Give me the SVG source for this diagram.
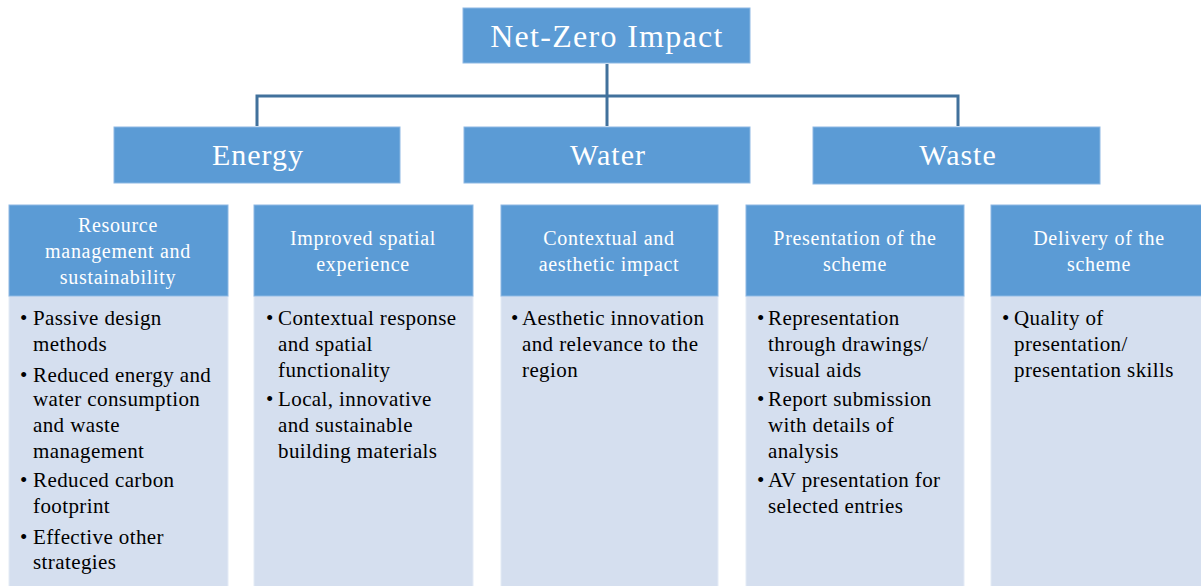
<svg xmlns="http://www.w3.org/2000/svg" width="1201" height="586" viewBox="0 0 1201 586">
<style>
.hd{fill:#5B9BD5;stroke:#8DB8E3;stroke-width:1}
.bd{fill:#D5DFEF;stroke:#E4EBF6;stroke-width:1}
.t1{font-family:"Liberation Serif",serif;fill:#fff;text-anchor:middle}
.big{font-size:32px;letter-spacing:1.3px}
.mid{font-size:30px;letter-spacing:1px}
.sh{font-size:20px;letter-spacing:0.7px}
.b{font-family:"Liberation Serif",serif;font-size:21px;letter-spacing:0.4px;fill:#000}
.con{fill:none;stroke:#41719C;stroke-width:3}
</style>
<g id="connectors">
<path class="con" d="M607,64 V126"/>
<path class="con" d="M257,126 V96 H958 V126"/>
</g>
<g id="n-root"><rect class="hd" x="463" y="8" width="287" height="55"/><text class="t1 big" x="607" y="47">Net-Zero Impact</text></g>
<g id="n-energy"><rect class="hd" x="114" y="127" width="286" height="56"/><text class="t1 mid" x="258" y="165">Energy</text></g>
<g id="n-water"><rect class="hd" x="464" y="127" width="286" height="56"/><text class="t1 mid" x="608" y="165">Water</text></g>
<g id="n-waste"><rect class="hd" x="813" y="127" width="287" height="57"/><text class="t1 mid" x="958" y="165">Waste</text></g>

<g id="c1">
<rect class="bd" x="9" y="296" width="219" height="291"/>
<rect class="hd" x="9" y="205" width="219" height="91"/>
<text class="t1 sh" x="118" y="232">Resource</text>
<text class="t1 sh" x="118" y="258">management and</text>
<text class="t1 sh" x="118" y="284">sustainability</text>
<g class="b">
<text x="20" y="325">•</text><text x="33" y="325">Passive design</text>
<text x="33" y="351">methods</text>
<text x="20" y="382">•</text><text x="33" y="382">Reduced energy and</text>
<text x="33" y="406">water consumption</text>
<text x="33" y="432">and waste</text>
<text x="33" y="458">management</text>
<text x="20" y="487">•</text><text x="33" y="487">Reduced carbon</text>
<text x="33" y="513">footprint</text>
<text x="20" y="544">•</text><text x="33" y="544">Effective other</text>
<text x="33" y="569">strategies</text>
</g>
</g>

<g id="c2">
<rect class="bd" x="254" y="296" width="219" height="291"/>
<rect class="hd" x="254" y="205" width="219" height="91"/>
<text class="t1 sh" x="363" y="245">Improved spatial</text>
<text class="t1 sh" x="363" y="271">experience</text>
<g class="b">
<text x="266" y="325">•</text><text x="278" y="325">Contextual response</text>
<text x="278" y="351">and spatial</text>
<text x="278" y="377">functionality</text>
<text x="266" y="406">•</text><text x="278" y="406">Local, innovative</text>
<text x="278" y="432">and sustainable</text>
<text x="278" y="458">building materials</text>
</g>
</g>

<g id="c3">
<rect class="bd" x="501" y="296" width="217" height="291"/>
<rect class="hd" x="501" y="205" width="217" height="91"/>
<text class="t1 sh" x="609" y="245">Contextual and</text>
<text class="t1 sh" x="609" y="271">aesthetic impact</text>
<g class="b">
<text x="511" y="325">•</text><text x="522" y="325">Aesthetic innovation</text>
<text x="522" y="351">and relevance to the</text>
<text x="522" y="377">region</text>
</g>
</g>

<g id="c4">
<rect class="bd" x="746" y="296" width="218" height="291"/>
<rect class="hd" x="746" y="205" width="218" height="91"/>
<text class="t1 sh" x="855" y="245">Presentation of the</text>
<text class="t1 sh" x="855" y="271">scheme</text>
<g class="b">
<text x="757" y="325">•</text><text x="768" y="325">Representation</text>
<text x="768" y="351">through drawings/</text>
<text x="768" y="377">visual aids</text>
<text x="757" y="406">•</text><text x="768" y="406">Report submission</text>
<text x="768" y="432">with details of</text>
<text x="768" y="458">analysis</text>
<text x="757" y="487">•</text><text x="768" y="487">AV presentation for</text>
<text x="768" y="513">selected entries</text>
</g>
</g>

<g id="c5">
<rect class="bd" x="991" y="296" width="218" height="291"/>
<rect class="hd" x="991" y="205" width="218" height="91"/>
<text class="t1 sh" x="1099" y="245">Delivery of the</text>
<text class="t1 sh" x="1099" y="271">scheme</text>
<g class="b">
<text x="1002" y="325">•</text><text x="1014" y="325">Quality of</text>
<text x="1014" y="351">presentation/</text>
<text x="1014" y="377">presentation skills</text>
</g>
</g>
</svg>
